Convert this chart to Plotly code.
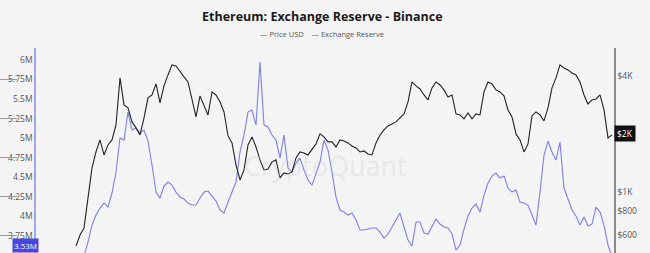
import plotly.graph_objects as go
import pandas as pd

# ---- data ----
price_usd = [524, 598, 650, 909, 1332, 1613, 1862, 1556, 1754, 1862,
             2227, 3906, 2828, 2729, 2309, 2149, 1976, 2422, 3075, 3187,
             3635, 2897, 3550, 4048, 4563, 4507, 4196, 3953, 3723, 3003,
             2451, 3150, 2828, 2510, 3304, 3187, 2932, 2601, 1953, 1796,
             1381, 1154, 1301, 1754, 1930, 1712, 1466, 1301, 1316, 1431,
             1466, 1182, 1255, 1240, 1270, 1501, 1613, 1594, 1556, 1652,
             1775, 2000, 1930, 1818, 1818, 1712, 1862, 1840, 1796, 1733,
             1692, 1613, 1632, 1575, 1556, 1796, 1976, 2098, 2201, 2254,
             2309, 2422, 2540, 2932, 3723, 3550, 3424, 3187, 3003, 3466,
             3723, 3590, 3384, 3112, 3187, 2540, 2510, 2393, 2570, 2393,
             2540, 2510, 3304, 3723, 3635, 3384, 3304, 3150, 2665, 2451,
             2000, 1862, 1613, 1775, 2480, 2601, 2510, 2336, 2729, 3466,
             3906, 4563, 4400, 4297, 4146, 4048, 3723, 3187, 2862, 3003,
             3038, 3187, 2665, 1906, 1976]

exchange_reserve_m = [3.333, 3.410, 3.487, 3.666, 3.884, 4.012, 4.102, 4.166, 4.115, 4.295,
                      4.564, 5.000, 4.974, 5.333, 5.102, 5.128, 5.064, 5.102, 4.961, 4.654,
                      4.307, 4.230, 4.384, 4.436, 4.397, 4.307, 4.243, 4.218, 4.166, 4.141,
                      4.141, 4.230, 4.307, 4.320, 4.256, 4.192, 4.077, 4.038, 4.179, 4.307,
                      4.436, 4.820, 5.038, 5.333, 5.359, 5.166, 5.974, 5.166, 5.141, 5.038,
                      4.974, 4.743, 5.038, 4.615, 4.564, 4.679, 4.743, 4.589, 4.461, 4.397,
                      4.538, 4.692, 4.974, 4.846, 4.564, 4.243, 4.077, 4.051, 4.012, 4.038,
                      3.948, 3.820, 3.820, 3.833, 3.846, 3.846, 3.795, 3.718, 3.769, 3.859,
                      3.948, 4.038, 3.859, 3.692, 3.615, 3.923, 3.923, 3.782, 3.769, 3.859,
                      3.961, 3.897, 3.859, 3.846, 3.769, 3.564, 3.628, 3.833, 4.000, 4.102,
                      4.154, 4.051, 4.269, 4.423, 4.513, 4.551, 4.487, 4.513, 4.359, 4.307,
                      4.333, 4.179, 4.166, 4.141, 4.012, 3.884, 4.307, 4.782, 4.961, 4.820,
                      4.718, 4.948, 4.359, 4.205, 4.077, 4.000, 3.884, 3.987, 3.872, 3.897,
                      4.115, 4.051, 3.884, 3.628, 3.487]

reserve_ticks = [3.75, 4.0, 4.25, 4.5, 4.75, 5.0, 5.25, 5.5, 5.75, 6.0]
reserve_labels = ["3.75M", "4M", "4.25M", "4.5M", "4.75M", "5M", "5.25M", "5.5M", "5.75M", "6M"]
price_ticks = [600, 800, 1000, 4000]
price_labels = ["$600", "$800", "$1K", "$4K"]
last_price_label = "$2K"
last_reserve_label = "3.53M"

dates = pd.date_range("2020-12-01", periods=len(price_usd), freq="7D")
step = pd.Timedelta(days=7)

fig = go.Figure()
fig.add_trace(go.Scatter(x=dates, y=[v * 1e6 for v in exchange_reserve_m], name="Exchange Reserve",
                         mode="lines", line=dict(color="#7f7fe6", width=1.1), yaxis="y"))
fig.add_trace(go.Scatter(x=dates, y=price_usd, name="Price USD",
                         mode="lines", line=dict(color="#222222", width=1.1), yaxis="y2"))

fig.update_layout(
    width=650, height=253,
    margin=dict(l=36, r=36, t=48, b=0),
    paper_bgcolor="#f4f4f4",
    plot_bgcolor="rgba(0,0,0,0)",
    showlegend=False,
    font=dict(family="Open Sans", size=9, color="#555555"),
    xaxis=dict(range=[dates[0] - 10 * step, dates[-1] + 0.5 * step],
               showticklabels=False, showgrid=False, zeroline=False, showline=False, ticks=""),
    yaxis=dict(range=[3.526e6, 6.154e6], tickvals=[t * 1e6 for t in reserve_ticks],
               ticktext=reserve_labels, showgrid=False, zeroline=False,
               showline=True, linecolor="#a4a4ec", linewidth=1.5,
               tickfont=dict(size=8.5, color="#555555"), ticks=""),
    yaxis2=dict(type="log", range=[2.683, 3.747], overlaying="y", side="right",
                tickvals=price_ticks, ticktext=price_labels, showgrid=False, zeroline=False,
                showline=True, linecolor="#8a8a8a", linewidth=1.5,
                tickfont=dict(size=8.5, color="#555555"), ticks=""),
)

# title and legend text
fig.add_annotation(text="<b>Ethereum: Exchange Reserve - Binance</b>", xref="paper", yref="paper",
                   x=0.495, y=1.0, yshift=32, yanchor="middle", showarrow=False,
                   font=dict(family="Open Sans", size=12.5, color="#1a1a1a"))
fig.add_annotation(text="<span style='color:#666'>—</span> Price USD    <span style='color:#666'>—</span> Exchange Reserve",
                   xref="paper", yref="paper", x=0.495, y=1.0, yshift=14, yanchor="middle", showarrow=False,
                   font=dict(family="Open Sans", size=7.5, color="#555555"))

# watermark
fig.add_annotation(text="CryptoQuant", xref="paper", yref="paper", x=0.5, y=0.325,
                   showarrow=False, font=dict(family="Open Sans", size=27, color="rgba(200,200,200,0.3)"))

# last-value markers
fig.add_annotation(text=last_price_label, xref="paper", yref="y2", x=1.0, y=3.301,
                   xanchor="left", showarrow=False, bgcolor="#111111", borderpad=2,
                   font=dict(size=8.5, color="white"))
fig.add_annotation(text=last_reserve_label, xref="paper", yref="paper", x=0.0, y=0.0,
                   xanchor="right", yanchor="bottom", xshift=3, showarrow=False,
                   bgcolor="#4646e0", borderpad=1, font=dict(size=8, color="white"))

# faint tick dashes at left edge
for t in [3.75, 4.25, 4.75, 5.25, 5.75]:
    fig.add_shape(type="line", xref="paper", yref="y", x0=-0.063, x1=-0.033,
                  y0=t * 1e6, y1=t * 1e6, line=dict(color="#9a9a9a", width=1))

fig.write_html("out.html")
